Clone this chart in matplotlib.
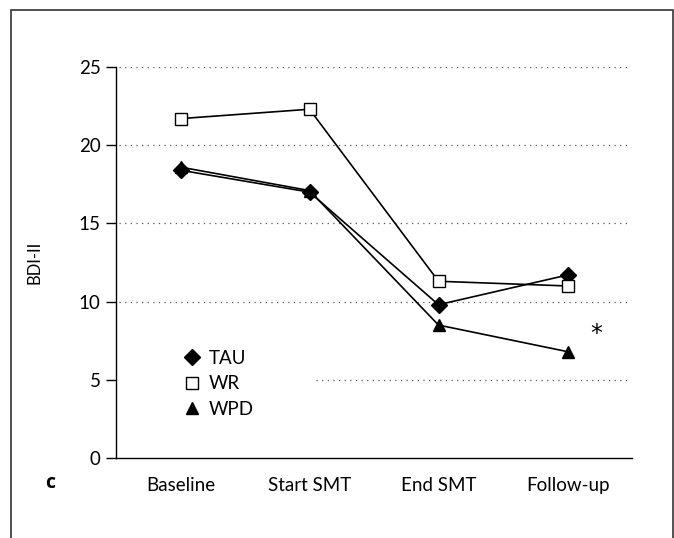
import matplotlib
matplotlib.use("Agg")
import matplotlib.pyplot as plt
from matplotlib.patches import Rectangle
from matplotlib.lines import Line2D

plt.rcParams['font.family'] = ['Lato', 'DejaVu Sans']

phases = ['Baseline', 'Start SMT', 'End SMT', 'Follow-up']
tau = [18.4, 17.0, 9.8, 11.7]
wr = [21.7, 22.3, 11.3, 11.0]
wpd = [18.6, 17.1, 8.5, 6.8]
yticks = [0, 5, 10, 15, 20, 25]

fig = plt.figure(figsize=(6.74, 5.38), dpi=100)
ax = fig.add_axes([116 / 674, 80 / 538, 516 / 674, 391 / 538])

x = range(len(phases))
ax.plot(x, tau, color='black', lw=1.2, marker='D', ms=8, mfc='black', mec='black', zorder=3)
ax.plot(x, wr, color='black', lw=1.2, marker='s', ms=9, mfc='white', mec='black', mew=1, zorder=3)
ax.plot(x, wpd, color='black', lw=1.2, marker='^', ms=9, mfc='black', mec='black', zorder=3)

# dotted guide lines; the one at 5 is hidden behind the key on the left
for v in yticks[1:]:
    start = 0.388 if v == 5 else 0.005
    ax.axhline(v, xmin=start, xmax=0.99, color='#555555', lw=0.9, ls=(0, (1, 3.5)), zorder=1)

ax.set_xlim(-0.5, 3.5)
ax.set_ylim(0, 25)
ax.set_yticks(yticks)
ax.set_xticks(list(x))
ax.set_xticklabels(phases)
ax.tick_params(axis='x', length=0, pad=14, labelsize=13.5)
ax.tick_params(axis='y', length=7, width=1, direction='out', labelsize=13.5, pad=4)
ax.spines['top'].set_visible(False)
ax.spines['right'].set_visible(False)
ax.spines['left'].set_linewidth(1)
ax.spines['bottom'].set_linewidth(1)
ax.set_ylabel('BDI-II', fontsize=12)
ax.yaxis.set_label_coords(-0.142, 0.5)

ax.text(3.22, 7.9, '*', fontsize=17, ha='center', va='center', family='DejaVu Sans')

handles = [
    Line2D([], [], ls='none', marker='D', ms=8, mfc='black', mec='black'),
    Line2D([], [], ls='none', marker='s', ms=9, mfc='white', mec='black'),
    Line2D([], [], ls='none', marker='^', ms=9, mfc='black', mec='black'),
]
ax.legend(handles, ['TAU', 'WR', 'WPD'], loc='upper left',
          bbox_to_anchor=(0.1, 0.315), frameon=False, fontsize=13.5,
          handlelength=1.0, handletextpad=0.4, labelspacing=0.45,
          borderpad=0.3)

fig.text(45 / 674, 1 - 483 / 538, 'c', fontsize=14, fontweight='bold',
         family='Open Sans', ha='left', va='center')

fig.patches.append(Rectangle((11 / 674, -0.1), 662 / 674, 1.1 - 10 / 538,
                             transform=fig.transFigure, fill=False, ec='#333333', lw=1.2))

fig.savefig('out.png', dpi=100)
